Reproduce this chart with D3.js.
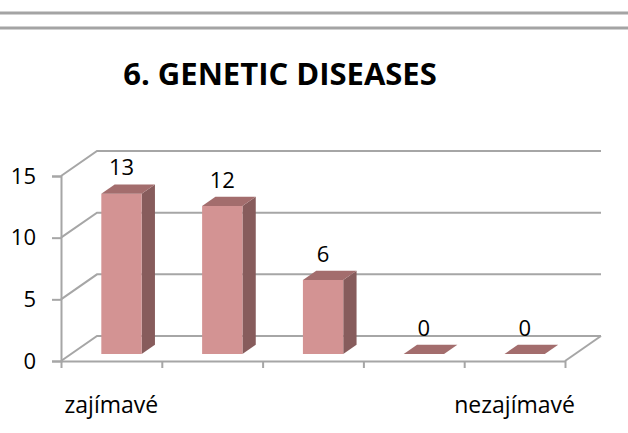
<!DOCTYPE html>
<html>
<head>
<meta charset="utf-8">
<script src="https://cdn.jsdelivr.net/npm/d3@7"></script>
<style>
  html, body { margin: 0; padding: 0; background: #fff; }
  svg { display: block; }
  text { font-family: "Open Sans", "Noto Sans", sans-serif; fill: #000; }
</style>
</head>
<body>
<svg id="chart" width="628" height="433"></svg>
<script>
const title = "6. GENETIC DISEASES";
const categories = ["zajímavé", "", "", "", "nezajímavé"];
const values = [13, 12, 6, 0, 0];
const yTicks = [0, 5, 10, 15];

const W = 628, H = 433;
const svg = d3.select("#chart");

// decorative rules at top
[13, 28].forEach(yy => {
  svg.append("line").attr("x1", 0).attr("x2", W).attr("y1", yy).attr("y2", yy)
    .attr("stroke", "#a4a4a4").attr("stroke-width", 3);
});

svg.append("text").attr("x", 280).attr("y", 85).attr("text-anchor", "middle")
  .attr("font-weight", "bold").attr("font-size", 31).text(title);

// 3D geometry
const pLeft = 61, pRight = 565, pBottom = 361, pTop = 176;
const DX = 36, DY = -25;
const proj = (px, py, t) => [px + t * DX, py + t * DY];

const y = d3.scaleLinear().domain([0, 15]).range([pBottom, pTop]);
const x = d3.scaleBand().domain(d3.range(categories.length)).range([pLeft, pRight]).padding(0);
const xEdge = d3.scaleLinear().domain([0, categories.length]).range([pLeft, pRight]);

const grid = svg.append("g").attr("stroke", "#a6a6a6").attr("stroke-width", 2).attr("fill", "none");
yTicks.forEach(v => {
  const a = proj(pLeft, y(v), 0), b = proj(pLeft, y(v), 1), c = proj(pRight, y(v), 1);
  grid.append("polyline").attr("points", [a, b, c].map(p => p.join(",")).join(" "));
});
{
  const a = proj(pRight, y(0), 0), b = proj(pRight, y(0), 1);
  grid.append("line").attr("x1", a[0]).attr("y1", a[1]).attr("x2", b[0]).attr("y2", b[1]);
}

// y axis
const yAxis = svg.append("g").attr("transform", `translate(${pLeft},0)`)
  .call(d3.axisLeft(y).tickValues(yTicks).tickSize(9).tickPadding(16).tickFormat(d3.format("d")));
yAxis.select(".domain").attr("stroke", "#a6a6a6").attr("stroke-width", 2);
yAxis.selectAll(".tick line").attr("stroke", "#a6a6a6").attr("stroke-width", 2);
yAxis.selectAll(".tick text").attr("font-size", 22).attr("font-family", "Open Sans").attr("fill", "#000");

// x axis (ticks at category edges)
const xAxis = svg.append("g").attr("transform", `translate(0,${pBottom})`)
  .call(d3.axisBottom(xEdge).tickValues(d3.range(categories.length + 1)).tickSize(7).tickSizeOuter(0).tickFormat(""));
xAxis.select(".domain").attr("stroke", "#a6a6a6").attr("stroke-width", 2);
xAxis.selectAll(".tick line").attr("stroke", "#a6a6a6").attr("stroke-width", 2);

svg.append("g").selectAll("text").data(categories).join("text")
  .attr("x", (d, i) => x(i) + x.bandwidth() / 2).attr("y", 413)
  .attr("text-anchor", "middle").attr("font-size", 23).text(d => d);

// bars
const t0 = 0.28, t1 = 0.65;
const bw = x.bandwidth() * 0.4;
const cFront = "#d39393", cSide = "#875c5c", cTop = "#a36d6d";
const bars = svg.append("g");
values.forEach((v, i) => {
  const x0 = x(i) + (x.bandwidth() - bw) / 2, x1 = x0 + bw;
  const yb = y(0), yt = y(v);
  const P = (px, py, t) => proj(px, py, t).join(",");
  if (v > 0) {
    bars.append("polygon").attr("fill", cSide)
      .attr("points", [P(x1, yb, t0), P(x1, yb, t1), P(x1, yt, t1), P(x1, yt, t0)].join(" "));
    bars.append("polygon").attr("fill", cFront)
      .attr("points", [P(x0, yb, t0), P(x1, yb, t0), P(x1, yt, t0), P(x0, yt, t0)].join(" "));
  }
  bars.append("polygon").attr("fill", cTop)
    .attr("points", [P(x0, yt, t0), P(x1, yt, t0), P(x1, yt, t1), P(x0, yt, t1)].join(" "));
  const c = proj((x0 + x1) / 2, yt, t1);
  bars.append("text").attr("x", proj((x0 + x1) / 2, yt, t0)[0]).attr("y", c[1] - 9)
    .attr("text-anchor", "middle").attr("font-size", 22).text(v);
});
</script>
</body>
</html>
